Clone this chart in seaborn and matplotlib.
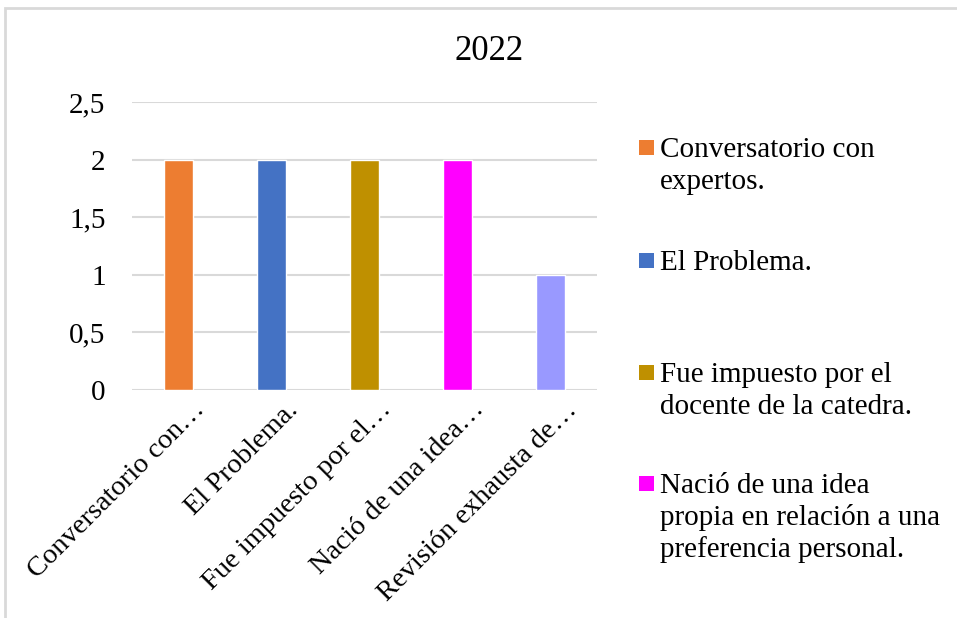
import numpy as np
import pandas as pd
from matplotlib import pyplot as plt
from matplotlib.patches import Rectangle
from matplotlib.transforms import ScaledTranslation
import seaborn as sns

sns.set_style('white')
plt.rcParams['font.family'] = ['Liberation Serif', 'DejaVu Serif']
plt.rcParams['text.color'] = 'black'
plt.rcParams['xtick.color'] = 'black'
plt.rcParams['ytick.color'] = 'black'

categorias = ['Conversatorio con…', 'El Problema.', 'Fue impuesto por el…',
              'Nació de una idea…', 'Revisión exhausta de…']
valores = [2, 2, 2, 2, 1]
leyenda = ['Conversatorio con\nexpertos.', 'El Problema.',
           'Fue impuesto por el\ndocente de la catedra.',
           'Nació de una idea\npropia en relación a una\npreferencia personal.']
colores = ['#ED7D31', '#4472C4', '#BF9000', '#FF00FF', '#9999FF']

df = pd.DataFrame({'cat': categorias, 'val': valores})

W, H = 957, 618
fig = plt.figure(figsize=(W/100, H/100), dpi=100)
ax = fig.add_axes([132/W, 1 - 390/H, (597-132)/W, (390-102)/H])

sns.barplot(data=df, x='cat', y='val', hue='cat', palette=colores,
            width=0.32, legend=False, ax=ax, saturation=1)

ax.set_ylim(0, 2.5)
ax.set_yticks([0, 0.5, 1, 1.5, 2, 2.5])
ax.set_yticklabels(['0', '0,5', '1', '1,5', '2', '2,5'], fontsize=21)
ax.set_xlabel('')
ax.set_ylabel('')
ax.tick_params(axis='y', length=0, pad=19)
ax.tick_params(axis='x', length=0, pad=8)
ax.yaxis.grid(True, color='#D9D9D9', linewidth=1.5)
ax.set_axisbelow(True)
for s in ax.spines.values():
    s.set_visible(False)

shift = ScaledTranslation(0.14, 0.04, fig.dpi_scale_trans)
for lbl in ax.get_xticklabels():
    lbl.set_rotation(45)
    lbl.set_ha('right')
    lbl.set_rotation_mode('anchor')
    lbl.set_fontsize(20.5)
    lbl.set_transform(lbl.get_transform() + shift)

fig.text(489/W, 1 - 51/H, '2022', ha='center', va='center', fontsize=25)

# legend drawn by hand (Excel style: marker next to the first line)
baselines = [157, 270, 382, 493]
lh = 32
for lab, col, yb in zip(leyenda, colores, baselines):
    fig.patches.append(Rectangle((639/W, 1 - (yb - 2)/H), 15/W, 15/H,
                                 transform=fig.transFigure, facecolor=col,
                                 edgecolor='none'))
    for k, linea in enumerate(lab.split('\n')):
        fig.text(660/W, 1 - (yb + k*lh)/H, linea, ha='left', va='baseline',
                 fontsize=21)

fig.patches.append(Rectangle((5/W, -0.1), 1.2, 1.1 - 8/H, transform=fig.transFigure,
                             fill=False, edgecolor='#D9D9D9', linewidth=2))

plt.savefig('out.png', dpi=100)
